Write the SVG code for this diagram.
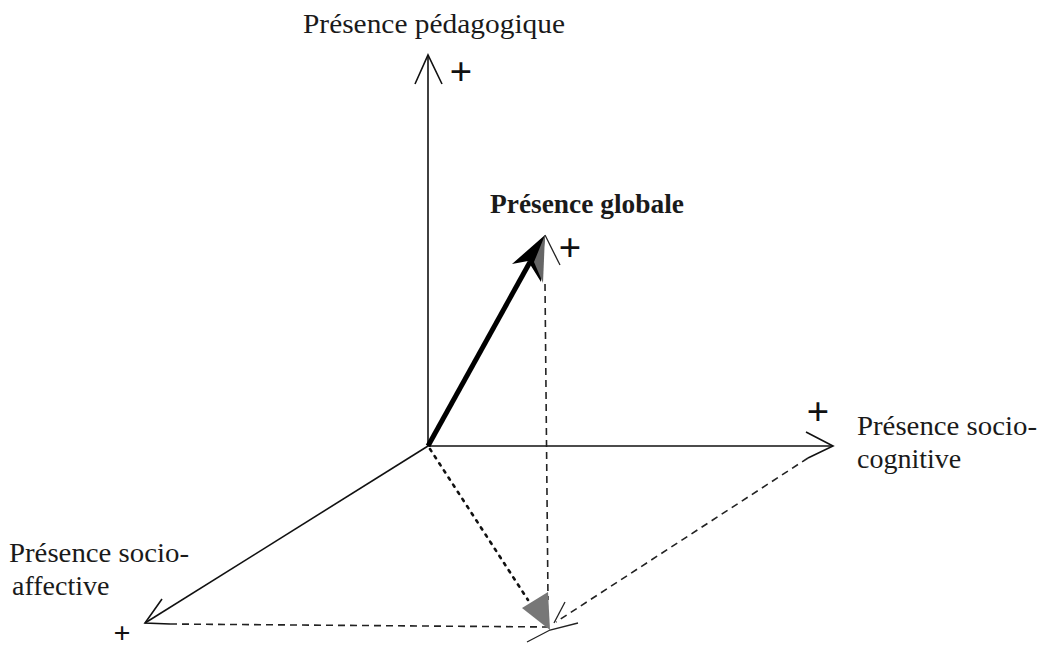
<svg xmlns="http://www.w3.org/2000/svg" width="1044" height="650" viewBox="0 0 1044 650">
<style>
.lbl{font-family:"Liberation Serif","Times New Roman",serif;font-size:28px;fill:#1a1a1a}
.bold{font-weight:bold}
.plus{font-family:"Liberation Serif","Times New Roman",serif;font-size:40px;font-weight:bold;fill:#111;text-anchor:middle}
.axis{stroke:#111;stroke-width:1.6;fill:none}
.thin{stroke:#222;stroke-width:1.3;fill:none}
.dash{stroke:#222;stroke-width:1.6;fill:none;stroke-dasharray:7 5}
.dot{stroke:#111;stroke-width:2.6;fill:none;stroke-dasharray:2.5 6;stroke-linecap:round}
</style>
<rect width="1044" height="650" fill="#fff"/>
<g id="connectors">
  <line class="axis" x1="428" y1="446" x2="428" y2="55"/>
  <polyline class="axis" points="415,84 428,55 442,84"/>
  <line class="axis" x1="428" y1="446" x2="833" y2="446"/>
  <polyline class="axis" points="806,432 833,446 808,458"/>
  <line class="axis" x1="428" y1="446" x2="145" y2="623"/>
  <polyline class="axis" points="162,599 145,623 170,624"/>
  <line class="dash" x1="170" y1="624" x2="550" y2="627"/>
  <line class="dash" x1="808" y1="458" x2="556" y2="622"/>
  <line class="dash" x1="545" y1="284" x2="548" y2="600"/>
  <line class="dot" x1="430" y1="449" x2="528" y2="600"/>
  <polygon points="550,630 522,608 548,592" fill="#777"/>
  <line class="thin" x1="565" y1="602" x2="554" y2="623"/>
  <polyline class="thin" points="527,642 550,630 578,623"/>
  <line x1="428" y1="446" x2="530" y2="262" stroke="#000" stroke-width="5"/>
  <polygon points="545,235 512,264 528,261 541,282" fill="#000"/>
  <polygon points="545,235 534,262 543,283" fill="#666"/>
  <line class="thin" x1="545" y1="235" x2="560" y2="265"/>
</g>
<g id="node-pedagogique">
  <text class="lbl" x="303" y="33" textLength="262" lengthAdjust="spacingAndGlyphs">Présence pédagogique</text>
  <text class="plus" x="461" y="85">+</text>
</g>
<g id="node-globale">
  <text class="lbl bold" x="490" y="213" style="font-size:27px" textLength="194" lengthAdjust="spacingAndGlyphs">Présence globale</text>
  <text class="plus" x="570" y="261">+</text>
</g>
<g id="node-sociocognitive">
  <text class="lbl" x="857" y="435" textLength="180" lengthAdjust="spacingAndGlyphs">Présence socio-</text>
  <text class="lbl" x="857" y="468">cognitive</text>
  <text class="plus" x="818" y="425">+</text>
</g>
<g id="node-socioaffective">
  <text class="lbl" x="9" y="562" textLength="180" lengthAdjust="spacingAndGlyphs">Présence socio-</text>
  <text class="lbl" x="12" y="595">affective</text>
  <text class="plus" x="122" y="643" style="font-size:30px">+</text>
</g>
</svg>
